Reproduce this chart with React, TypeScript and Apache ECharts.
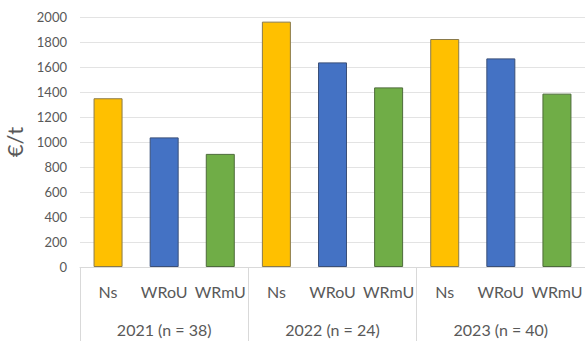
import React, { useEffect, useRef } from "react";
import * as echarts from "echarts";

const years = ["2021 (n = 38)", "2022 (n = 24)", "2023 (n = 40)"];
const groups = ["Ns", "WRoU", "WRmU"];
const nsValues = [1350, 1963, 1824];
const wrouValues = [1037, 1637, 1669];
const wrmuValues = [905, 1437, 1387];
const yTicks = { min: 0, max: 2000, interval: 200 };

const fills = ["#FFC000", "#4472C4", "#70AD47"];
const borders = ["#8a7a4a", "#3a4f78", "#4d6b3a"];

export default function App() {
  const ref = useRef<HTMLDivElement>(null);
  useEffect(() => {
    if (!ref.current) return;
    const chart = echarts.init(ref.current, undefined, { renderer: "svg" });
    const series = [nsValues, wrouValues, wrmuValues];
    const cats: string[] = [];
    const data: any[] = [];
    years.forEach((_, yi) => {
      groups.forEach((g, gi) => {
        cats.push(g);
        data.push({
          value: series[gi][yi],
          itemStyle: { color: fills[gi], borderColor: borders[gi], borderWidth: 1 },
        });
      });
    });
    const font = "Lato, 'Open Sans', sans-serif";
    chart.setOption({
      animation: false,
      grid: {
        left: 80,
        right: 0,
        top: 17,
        bottom: 74,
        containLabel: false,
        outerBoundsMode: "none",
      },
      xAxis: [
        {
          type: "category",
          data: cats,
          position: "bottom",
          axisLine: { show: true, lineStyle: { color: "#d9d9d9", width: 1 } },
          axisTick: { show: false },
          axisLabel: {
            interval: 0,
            margin: 16,
            fontSize: 16,
            color: "#595959",
            fontFamily: font,
          },
        },
        {
          type: "category",
          data: years,
          position: "bottom",
          offset: 74,
          axisLine: { show: false },
          axisTick: {
            show: true,
            inside: true,
            length: 74,
            alignWithLabel: false,
            lineStyle: { color: "#d9d9d9", width: 1 },
          },
          axisLabel: {
            inside: true,
            interval: 0,
            margin: 4,
            fontSize: 16,
            color: "#595959",
            fontFamily: font,
          },
        },
      ],
      yAxis: {
        type: "value",
        min: yTicks.min,
        max: yTicks.max,
        interval: yTicks.interval,
        name: "€/t",
        nameLocation: "middle",
        nameRotate: 90,
        nameGap: 45,
        nameTextStyle: { fontSize: 22, color: "#595959", fontFamily: font, fontWeight: 400 },
        axisLine: { show: false },
        axisTick: { show: false },
        axisLabel: {
          fontSize: 13,
          color: "#595959",
          margin: 13,
          fontFamily: font,
          formatter: (v: number) => String(v),
        },
        splitLine: { lineStyle: { color: "#e3e3e3", width: 1 } },
      },
      series: [
        {
          type: "bar",
          xAxisIndex: 0,
          data,
          barWidth: 29,
        },
      ],
    });
    return () => chart.dispose();
  }, []);
  return (
    <div
      ref={ref}
      style={{ position: "fixed", left: 0, top: 0, width: 585, height: 341, background: "#fff" }}
    />
  );
}
